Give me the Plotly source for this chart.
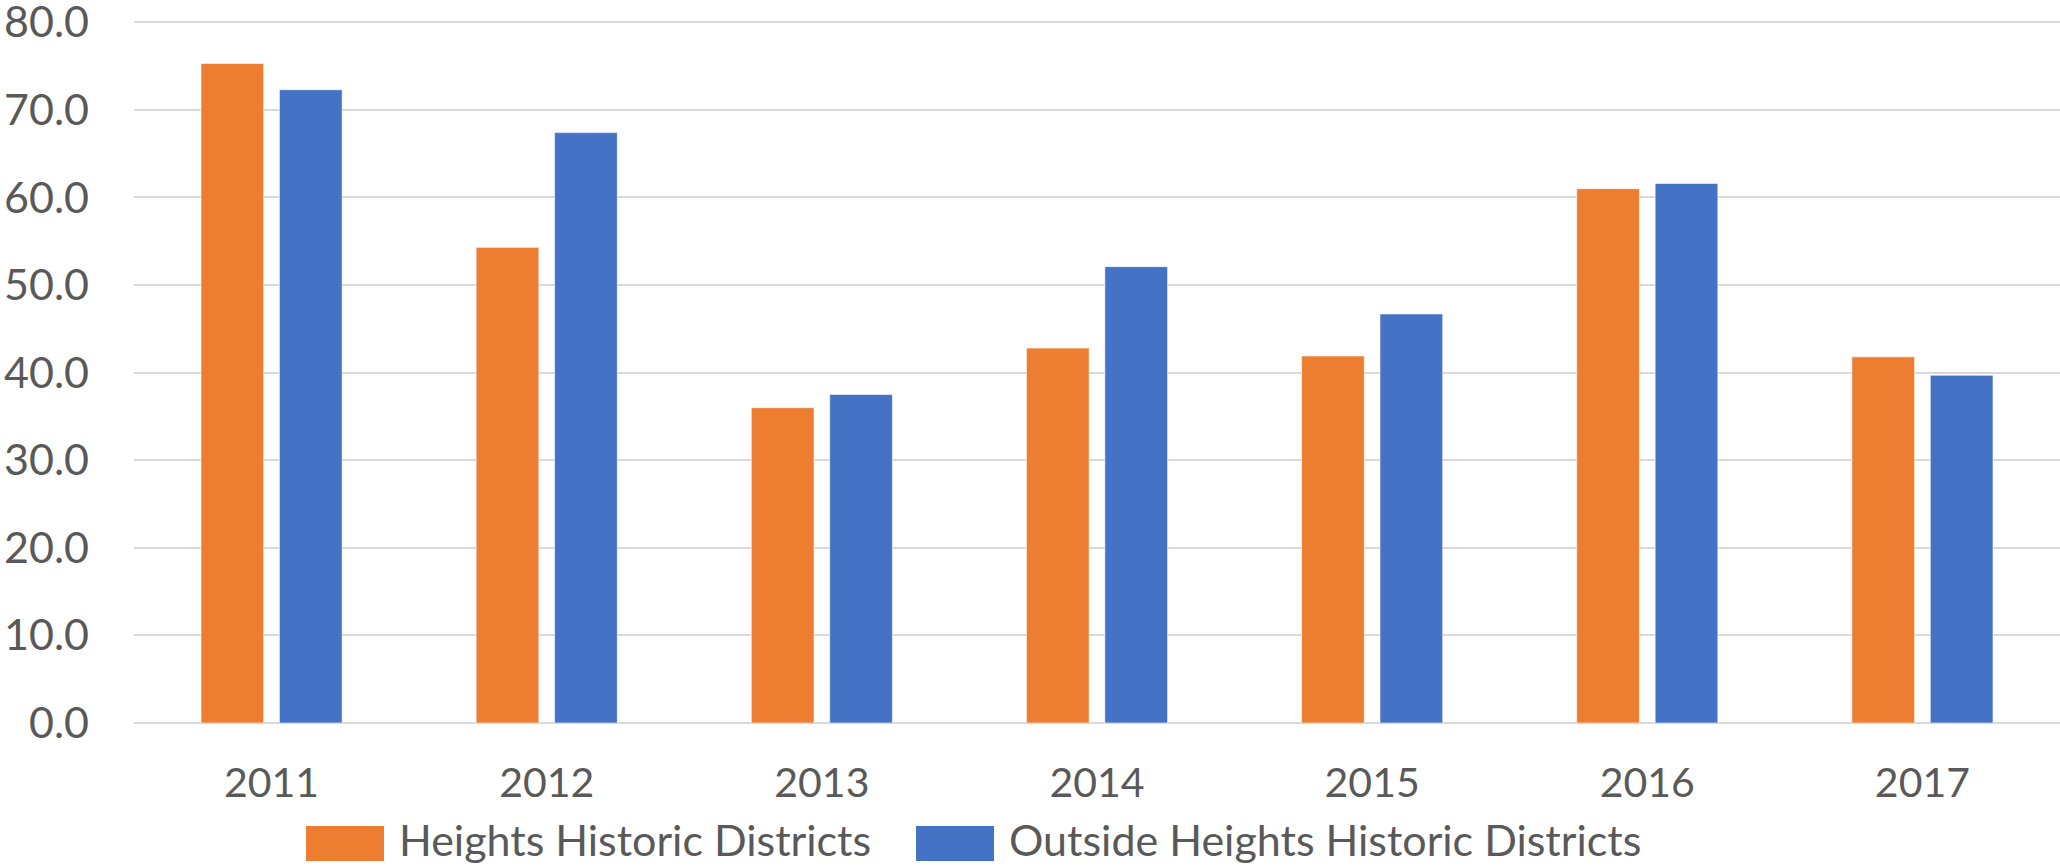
import plotly.graph_objects as go

years = ["2011", "2012", "2013", "2014", "2015", "2016", "2017"]
heights = [75.3, 54.3, 36.0, 42.8, 41.9, 61.0, 41.8]
outside = [72.3, 67.4, 37.5, 52.1, 46.7, 61.6, 39.7]
series_names = ["Heights Historic Districts", "Outside Heights Historic Districts"]
y_ticks = [0, 10, 20, 30, 40, 50, 60, 70, 80]

ORANGE = "#ED7D31"
BLUE = "#4472C4"
GREY = "#595959"
FONT = "Lato, Carlito, Calibri, sans-serif"

W, H = 2060, 867
Y_TOP = 80.6
L, R, B = 134, 0, 144
zero_px, eighty_px = 723, 22
ph = (zero_px - eighty_px) * Y_TOP / 80.0
T = H - B - ph
pw = W - L - R

fig = go.Figure()
fig.add_trace(go.Bar(x=years, y=heights, name=series_names[0], marker_color=ORANGE,
                     marker_line=dict(color="rgba(255,255,255,0.6)", width=1), showlegend=False))
fig.add_trace(go.Bar(x=years, y=outside, name=series_names[1], marker_color=BLUE,
                     marker_line=dict(color="rgba(255,255,255,0.6)", width=1), showlegend=False))

def px_x(p):
    return (p - L) / pw

def px_y(p):
    return (H - B - p) / ph

# custom legend (swatches + labels)
legend_items = [(306, 384, 398, ORANGE, series_names[0]), (916, 994, 1008, BLUE, series_names[1])]
for x0, x1, tx, col, name in legend_items:
    fig.add_shape(type="rect", xref="paper", yref="paper",
                  x0=px_x(x0), x1=px_x(x1), y0=px_y(861), y1=px_y(826),
                  fillcolor=col, line=dict(width=0))
    fig.add_annotation(xref="paper", yref="paper", x=px_x(tx), y=px_y(866),
                       xanchor="left", yanchor="bottom", text=name, showarrow=False,
                       borderpad=0, font=dict(family=FONT, size=43, color=GREY))

fig.update_layout(
    width=W, height=H,
    margin=dict(l=L, r=R, t=T, b=B, pad=0),
    paper_bgcolor="white", plot_bgcolor="white",
    barmode="group", bargap=0.43, bargroupgap=0.2,
    font=dict(family=FONT, size=41, color=GREY),
)
fig.update_xaxes(showgrid=False, showline=False, zeroline=False, ticks="", automargin=False,
                 ticklabelstandoff=32, tickfont=dict(family=FONT, size=41, color=GREY))
fig.update_yaxes(range=[0, Y_TOP], tickvals=y_ticks, ticktext=[f"{v:.1f}" for v in y_ticks],
                 showgrid=True, gridcolor="#D9D9D9", gridwidth=2, automargin=False,
                 zeroline=True, zerolinecolor="#D9D9D9", zerolinewidth=2,
                 showline=False, ticks="", ticklabelstandoff=44, ticklabeloverflow="allow",
                 tickfont=dict(family=FONT, size=43, color=GREY))

fig.write_html("out.html", config={"displayModeBar": False},
               post_script="document.body.style.margin='0';document.body.style.overflow='hidden';")
